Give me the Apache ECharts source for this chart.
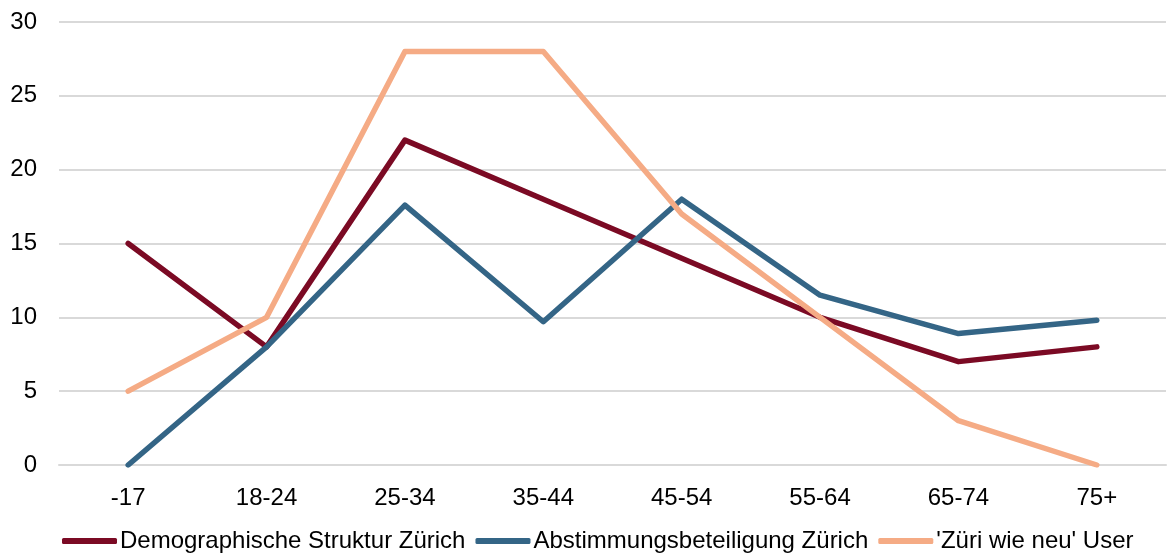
<!DOCTYPE html>
<html>
<head>
<meta charset="utf-8">
<script src="https://cdn.jsdelivr.net/npm/echarts@6/dist/echarts.min.js"></script>
<style>
  html, body { margin: 0; padding: 0; background: #fff; }
  #chart { width: 1168px; height: 559px; }
</style>
</head>
<body>
<div id="chart"></div>
<script>
// Age groups on the x axis
const ageGroups = ['-17', '18-24', '25-34', '35-44', '45-54', '55-64', '65-74', '75+'];

// Share per age group (%)
const demographieZuerich = [15, 8, 22, 18, 14, 10, 7, 8];
const abstimmungZuerich = [0, 8, 17.6, 9.7, 18, 11.5, 8.9, 9.8];
const zueriWieNeuUser = [5, 10, 28, 28, 17, 10, 3, 0];

const seriesNames = ['Demographische Struktur Zürich', 'Abstimmungsbeteiligung Zürich', "'Züri wie neu' User"];
const seriesColors = ['#7b0a24', '#346586', '#f5ab85'];

const fontFamily = '"Liberation Sans", Arial, sans-serif';

function lineSeries(name, data, color) {
  return {
    name: name,
    type: 'line',
    data: data,
    symbol: 'none',
    smooth: false,
    color: color,
    lineStyle: { width: 5.5, color: color, cap: 'round', join: 'round' },
    emphasis: { disabled: true }
  };
}

const chart = echarts.init(document.getElementById('chart'), null, { renderer: 'canvas' });
chart.setOption({
  animation: false,
  textStyle: { fontFamily: fontFamily },
  grid: { left: 59, right: 2, top: 22, bottom: 94, containLabel: false },
  legend: {
    bottom: 1,
    left: 57,
    icon: 'roundRect',
    itemWidth: 55,
    itemHeight: 6,
    itemGap: 10,
    textStyle: { fontSize: 24, color: '#000', fontFamily: fontFamily, padding: [0, 0, 0, -2] },
    data: seriesNames
  },
  xAxis: {
    type: 'category',
    data: ageGroups,
    boundaryGap: true,
    axisLine: { show: true, lineStyle: { color: '#d9d9d9', width: 2 } },
    axisTick: { show: false },
    axisLabel: { fontSize: 24, color: '#000', margin: 21, fontFamily: fontFamily }
  },
  yAxis: {
    type: 'value',
    min: 0,
    max: 30,
    interval: 5,
    axisLine: { show: false },
    axisTick: { show: false },
    axisLabel: { fontSize: 24, color: '#000', margin: 22, fontFamily: fontFamily },
    splitLine: { lineStyle: { color: '#d9d9d9', width: 2 } }
  },
  series: [
    lineSeries(seriesNames[0], demographieZuerich, seriesColors[0]),
    lineSeries(seriesNames[1], abstimmungZuerich, seriesColors[1]),
    lineSeries(seriesNames[2], zueriWieNeuUser, seriesColors[2])
  ]
});
</script>
</body>
</html>
